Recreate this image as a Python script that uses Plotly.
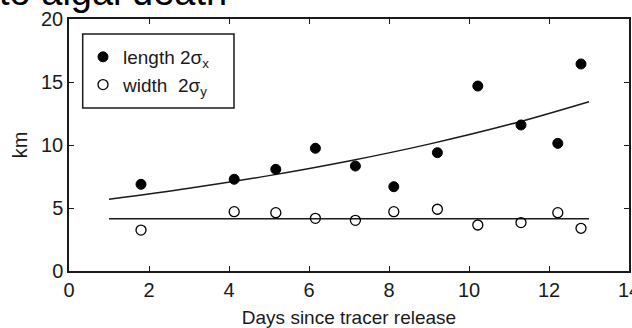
import plotly.graph_objects as go

# Data
days = [1.8, 4.13, 5.17, 6.16, 7.16, 8.12, 9.21, 10.22, 11.3, 12.22, 12.8]
length_2sx = [6.88, 7.28, 8.07, 9.74, 8.33, 6.69, 9.39, 14.68, 11.59, 10.13, 16.43]
width_2sy = [3.25, 4.71, 4.63, 4.18, 4.02, 4.71, 4.9, 3.65, 3.84, 4.63, 3.39]

# Fitted curves
fit_days = [1, 3, 5, 7, 9, 11, 13]
fit_length = [5.69, 6.56, 7.57, 8.73, 10.07, 11.62, 13.44]
fit_width_days = [1, 13]
fit_width = [4.15, 4.15]

x_ticks = [0, 2, 4, 6, 8, 10, 12, 14]
y_ticks = [0, 5, 10, 15, 20]

FONT = "Liberation Sans, Arial, Helvetica, sans-serif"
INK = "#1a1a1a"

fig = go.Figure()
fig.add_trace(go.Scatter(x=fit_days, y=fit_length, mode="lines", line=dict(color=INK, width=1.5, shape="spline"),
                         showlegend=False, hoverinfo="skip"))
fig.add_trace(go.Scatter(x=fit_width_days, y=fit_width, mode="lines", line=dict(color=INK, width=1.5),
                         showlegend=False, hoverinfo="skip"))
fig.add_trace(go.Scatter(x=days, y=length_2sx, mode="markers", name="length 2σ<sub>x</sub>",
                         marker=dict(symbol="circle", size=10, color="black", line=dict(color="black", width=1))))
fig.add_trace(go.Scatter(x=days, y=width_2sy, mode="markers", name="width  2σ<sub>y</sub>",
                         marker=dict(symbol="circle-open", size=10, color="black", line=dict(color="black", width=1.3))))

axis_common = dict(showline=True, linecolor=INK, linewidth=1.5, mirror="ticks", ticks="inside",
                   ticklen=5, tickwidth=1.2, tickcolor=INK, showgrid=False, zeroline=False,
                   ticklabeloverflow="allow", automargin=False,
                   tickfont=dict(family=FONT, size=20, color=INK))

fig.update_layout(
    template="none",
    width=632, height=328,
    margin=dict(l=69, r=3, t=19, b=57),
    paper_bgcolor="white", plot_bgcolor="white",
    font=dict(family=FONT, color=INK),
    xaxis=dict(range=[0, 14], tickvals=x_ticks, ticktext=[str(v) for v in x_ticks],
               title=dict(text="Days since tracer release", font=dict(family=FONT, size=19, color=INK), standoff=12),
               **axis_common),
    yaxis=dict(range=[0, 20], tickvals=y_ticks, ticktext=[str(v) for v in y_ticks],
               title=dict(text="km", font=dict(family=FONT, size=20, color=INK), standoff=8),
               **axis_common),
    legend=dict(x=(83 - 69) / 560, y=(271 - 38) / 252, xanchor="left", yanchor="top", bgcolor="rgba(0,0,0,0)",
                borderwidth=0, font=dict(family=FONT, size=19, color=INK), itemwidth=30,
                tracegroupgap=0),
    shapes=[dict(type="rect", xref="paper", yref="paper",
                 x0=(82.7 - 69) / 560, x1=(234 - 69) / 560,
                 y0=(271 - 108) / 252, y1=(271 - 34) / 252,
                 line=dict(color=INK, width=1.5), fillcolor="rgba(0,0,0,0)")],
    annotations=[dict(text="to algal death", xref="paper", yref="paper", x=-69 / 560 - 0.006, y=1 + 4 / 252,
                      xanchor="left", yanchor="bottom", showarrow=False,
                      font=dict(family=FONT, size=38, color="black"))],
)

fig.write_html("out.html")
